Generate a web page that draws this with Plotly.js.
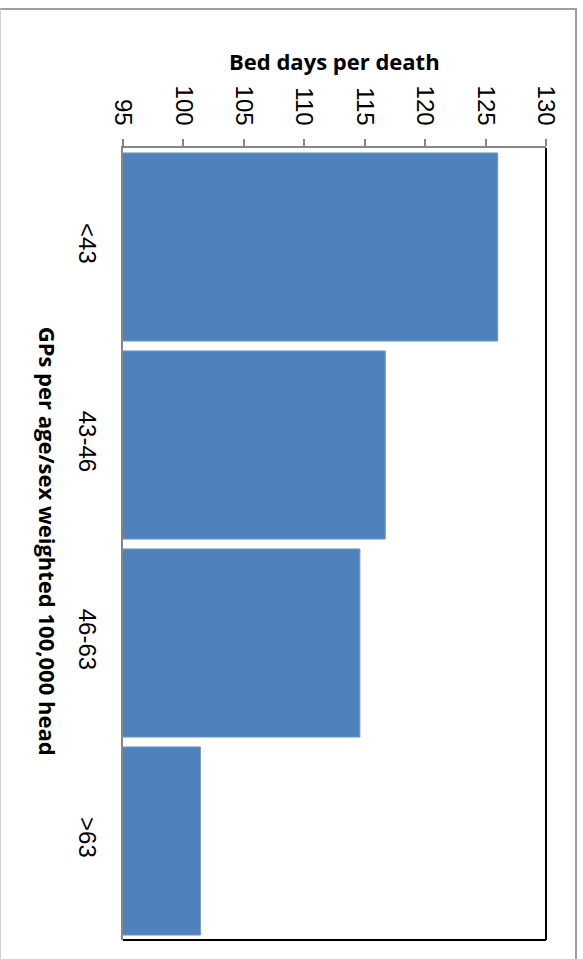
<!DOCTYPE html>
<html>
<head>
<meta charset="utf-8">
<script src="https://cdn.plot.ly/plotly-3.0.1.min.js"></script>
<style>
  html, body { margin: 0; padding: 0; background: #fff; }
  #wrap { position: relative; width: 583px; height: 959px; overflow: hidden; }
  #chart { position: absolute; left: 0; top: 0; width: 583px; height: 959px; }
  #frame { position: absolute; left: 0px; top: 8px; width: 574px; height: 1000px;
           border-top: 2px solid #a0a0a0; border-right: 2px solid #a0a0a0; border-left: 1px solid #d0d0d0;
           pointer-events: none; }
</style>
</head>
<body>
<div id="wrap">
  <div id="chart"></div>
  <div id="frame"></div>
</div>
<script>
const categories = ["<43", "43-46", "46-63", ">63"];
const bedDaysPerDeath = [126.0, 116.7, 114.6, 101.4];
const valueTicks = [95, 100, 105, 110, 115, 120, 125, 130];
const valueTitle = "Bed days per death";
const categoryTitle = "GPs per age/sex weighted 100,000 head";

const font = "Liberation Sans, Arial, sans-serif";
const boldFont = "Open Sans, Liberation Sans, sans-serif";

const trace = {
  type: "bar",
  orientation: "h",
  y: categories,
  x: bedDaysPerDeath,
  marker: { color: "#4F81BD", line: { color: "#7096C6", width: 1 } },
  hoverinfo: "none"
};

const layout = {
  width: 583,
  height: 959,
  margin: { l: 123, r: 37, t: 148, b: 19, pad: 0 },
  paper_bgcolor: "#ffffff",
  plot_bgcolor: "#ffffff",
  showlegend: false,
  bargap: 0.05,
  xaxis: {
    side: "top",
    range: [95, 130],
    tickvals: valueTicks,
    ticktext: valueTicks.map(String),
    tickangle: 90,
    showgrid: false,
    zeroline: false,
    showline: true,
    linecolor: "#868686",
    linewidth: 2,
    ticks: "outside",
    ticklen: 7,
    tickwidth: 2,
    tickcolor: "#868686",
    ticklabelstandoff: 5,
    tickfont: { family: font, size: 24, color: "#000" },
    fixedrange: true
  },
  yaxis: {
    type: "category",
    autorange: "reversed",
    tickangle: 90,
    showgrid: false,
    zeroline: false,
    showline: true,
    linecolor: "#868686",
    linewidth: 2,
    ticks: "",
    ticklabelstandoff: 13,
    tickfont: { family: font, size: 24, color: "#000" },
    fixedrange: true
  },
  shapes: [
    { type: "line", xref: "paper", yref: "paper", x0: 1, x1: 1, y0: 0, y1: 1, line: { color: "#000", width: 2 } },
    { type: "line", xref: "paper", yref: "paper", x0: 0, x1: 1, y0: 0, y1: 0, line: { color: "#000", width: 2 } }
  ],
  annotations: [
    { text: "<b>" + valueTitle + "</b>", xref: "paper", yref: "paper", x: 0.501, y: 1.1098,
      xanchor: "center", yanchor: "middle", showarrow: false,
      font: { family: boldFont, size: 22, color: "#000" } },
    { text: "<b>" + categoryTitle + "</b>", xref: "paper", yref: "paper", x: -0.177, y: 0.504,
      xanchor: "center", yanchor: "middle", showarrow: false, textangle: 90,
      font: { family: boldFont, size: 22, color: "#000" } }
  ]
};

Plotly.newPlot("chart", [trace], layout, { staticPlot: true, displayModeBar: false });
</script>
</body>
</html>
